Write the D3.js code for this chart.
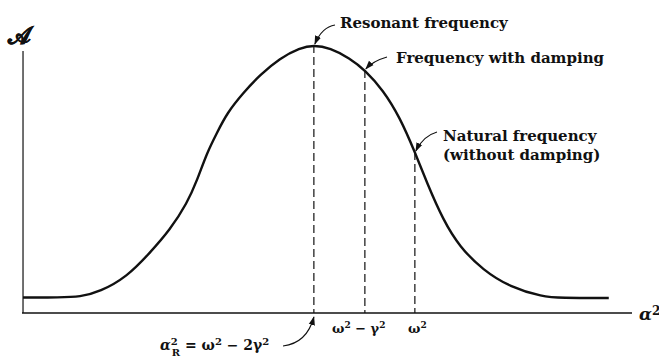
<!DOCTYPE html>
<html>
<head>
<meta charset="utf-8">
<script src="https://cdn.jsdelivr.net/npm/d3@7/dist/d3.min.js"></script>
<style>
  html, body { margin: 0; padding: 0; background: #fff; }
  svg { display: block; }
  .lbl { font-family: "DejaVu Serif", serif; font-weight: bold; font-size: 15px; fill: #111; }
  .math { font-family: "DejaVu Serif", serif; font-weight: bold; font-size: 13px; fill: #111; }
</style>
</head>
<body>
<script>
// Squared driving frequency (α²) and response amplitude of the driven oscillator
const alphaSq   = [0.04, 0.77, 1.17, 1.56, 2.10, 2.55, 2.95, 3.29, 3.49, 3.68, 3.88, 4.08, 4.40, 4.73, 5.13, 5.52, 5.80,
                   6.12, 6.51, 6.81, 7.17, 7.50, 7.80, 8.04, 8.36, 8.69, 9.15, 9.68, 10.34, 10.67, 11.64];
const amplitude = [0.058, 0.058, 0.060, 0.079, 0.135, 0.224, 0.310, 0.410, 0.496, 0.597, 0.672, 0.746, 0.821, 0.888, 0.951, 0.989, 1.00,
                   0.989, 0.951, 0.907, 0.832, 0.731, 0.601, 0.485, 0.347, 0.246, 0.160, 0.097, 0.060, 0.056, 0.056];

// Characteristic frequencies (ω² = 7.8, γ² = 1.0)
const markerNames  = ["Resonant frequency", "Frequency with damping", "Natural frequency"];
const markerAlpha  = [5.80, 6.81, 7.80];
const markerAmp    = [1.00, 0.907, 0.601];

const W = 659, H = 358;
const svg = d3.select("body").append("svg").attr("width", W).attr("height", H);

const x = d3.scaleLinear().domain([0, 12.1]).range([21, 632]);
const y = d3.scaleLinear().domain([0, 1]).range([313, 45]);

// arrowhead
svg.append("defs").append("marker")
  .attr("id", "arr").attr("viewBox", "0 0 10 10")
  .attr("refX", 9).attr("refY", 5)
  .attr("markerWidth", 9).attr("markerHeight", 9)
  .attr("markerUnits", "userSpaceOnUse")
  .attr("orient", "auto")
  .append("path").attr("d", "M0,1.5 L10,5 L0,8.5 Z").attr("fill", "#111");

// axes (bare lines, no ticks)
svg.append("line").attr("x1", x(0.04)).attr("x2", x(0.04))
  .attr("y1", y(0)).attr("y2", y(0.978))
  .attr("stroke", "#111").attr("stroke-width", 1.2);
svg.append("line").attr("x1", x(0.02)).attr("x2", x(12.1))
  .attr("y1", y(0)).attr("y2", y(0))
  .attr("stroke", "#111").attr("stroke-width", 1.5);

// dashed verticals
markerAlpha.forEach((a, i) => {
  svg.append("line")
    .attr("x1", x(a)).attr("x2", x(a))
    .attr("y1", y(markerAmp[i])).attr("y2", y(0))
    .attr("stroke", "#111").attr("stroke-width", 1.2)
    .attr("stroke-dasharray", "8,4");
});

// response curve (B-spline through the sampled amplitudes)
const pts = alphaSq.map((a, i) => [a, amplitude[i]]);
svg.append("path")
  .datum(pts)
  .attr("d", d3.line().x(d => x(d[0])).y(d => y(d[1])).curve(d3.curveBasis))
  .attr("fill", "none").attr("stroke", "#111").attr("stroke-width", 2.4)
  .attr("stroke-linejoin", "round");

// annotation labels
const lbl = (tx, ty, s) => svg.append("text").attr("class", "lbl").attr("x", tx).attr("y", ty).text(s);
lbl(340, 28, markerNames[0]);
lbl(396, 63, markerNames[1]);
lbl(443, 141, markerNames[2]);
lbl(443, 160, "(without damping)");

// curved pointers from labels to the curve
const arrow = d => svg.append("path").attr("d", d).attr("fill", "none")
  .attr("stroke", "#111").attr("stroke-width", 1.1).attr("marker-end", "url(#arr)");
const px = i => x(markerAlpha[i]), py = i => y(markerAmp[i]);
arrow(`M335,25 Q322,27 ${px(0) + 1},${py(0) - 1}`);
arrow(`M387,57 Q373,61 ${px(1) + 1},${py(1) - 1}`);
arrow(`M437,132 Q423,136 ${px(2) + 1},${py(2) - 1}`);
arrow(`M283,346 Q307,343 ${px(0)},${y(0) + 4}`);

// math labels
function mathText(tx, ty, parts, size) {
  const t = svg.append("text").attr("class", "math").attr("x", tx).attr("y", ty);
  if (size) t.style("font-size", size + "px");
  const sm = Math.round((size || 13) * 0.7) + "px";
  parts.forEach(p => {
    const s = t.append("tspan").text(p.t);
    if (p.sup) s.attr("dy", -5).style("font-size", sm);
    if (p.sub) s.attr("dy", p.dy).attr("dx", p.dx || 0).style("font-size", sm);
    if (p.back) s.attr("dy", p.back);
    if (p.it) s.style("font-style", "italic");
  });
  return t;
}
// α_R² = ω² − 2γ²
mathText(160, 350, [
  {t: "α", it: true},
  {t: "2", sup: true},
  {t: "R", sub: true, dy: 11, dx: -6},
  {t: " = ω", back: -6},
  {t: "2", sup: true},
  {t: " − 2γ", back: 5},
  {t: "2", sup: true}
], 14);
mathText(332, 333, [{t: "ω"}, {t: "2", sup: true}, {t: " − γ", back: 5}, {t: "2", sup: true}]);
mathText(408, 333, [{t: "ω"}, {t: "2", sup: true}]);

// axis titles
mathText(639, 320, [{t: "α", it: true}, {t: "2", sup: true}], 17);
svg.append("text").attr("x", 8).attr("y", 44)
  .style("font-family", "'DejaVu Sans', 'DejaVu Serif', serif")
  .style("font-weight", "bold").style("font-size", "24px")
  .attr("fill", "#111").attr("stroke", "#111").attr("stroke-width", 0.5)
  .text("𝒜");
</script>
</body>
</html>
